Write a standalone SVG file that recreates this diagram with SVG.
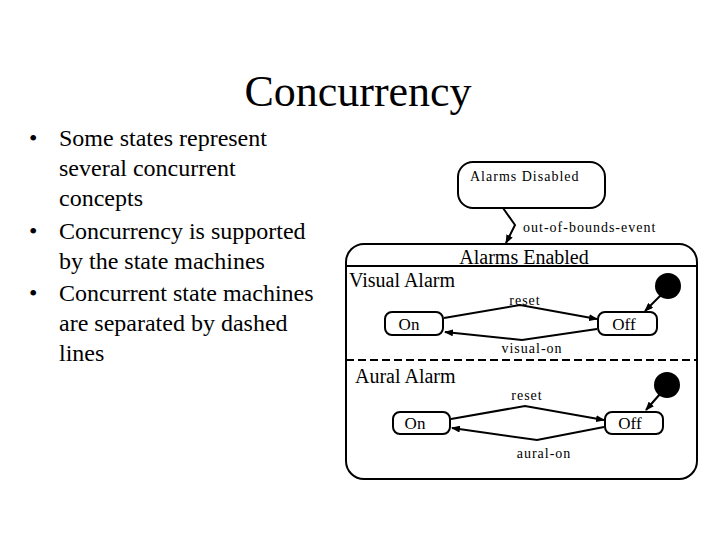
<svg xmlns="http://www.w3.org/2000/svg" width="720" height="540" viewBox="0 0 720 540" font-family="'Liberation Serif', 'Times New Roman', Times, serif">
<defs>
<style>
text{font-family:'Liberation Serif','Times New Roman',Times,serif;fill:#000}
.title{font-size:44px}
.bul{font-size:24px}
.lbl{font-size:14px;letter-spacing:1px}
.sm{font-size:14px;letter-spacing:1px}
.st{font-size:17px}
.reg{font-size:20px}
.box{fill:#fff;stroke:#000;stroke-width:2}
.edge{fill:none;stroke:#000;stroke-width:2}
</style>
<marker id="ah" markerWidth="9" markerHeight="7" refX="8" refY="3.5" orient="auto" markerUnits="userSpaceOnUse">
<path d="M0,0 L9,3.5 L0,7 Z" fill="#000"/>
</marker>
</defs>
<rect width="720" height="540" fill="#fff"/>
<text class="title" x="358" y="106" text-anchor="middle">Concurrency</text>
<g id="bullets">
<text class="bul" x="29" y="146">•</text>
<text class="bul" x="59" y="146">Some states represent</text>
<text class="bul" x="59" y="176">several concurrent</text>
<text class="bul" x="59" y="206">concepts</text>
<text class="bul" x="29" y="239">•</text>
<text class="bul" x="59" y="239">Concurrency is supported</text>
<text class="bul" x="59" y="269">by the state machines</text>
<text class="bul" x="29" y="301">•</text>
<text class="bul" x="59" y="301">Concurrent state machines</text>
<text class="bul" x="59" y="331">are separated by dashed</text>
<text class="bul" x="59" y="361">lines</text>
</g>
<g id="alarms-disabled">
<rect class="box" x="458" y="162" width="147" height="46" rx="15"/>
<text class="lbl" x="470" y="181">Alarms Disabled</text>
</g>
<g id="alarms-enabled">
<rect class="box" x="346" y="244" width="351" height="235" rx="18"/>
<text class="reg" x="524" y="264" text-anchor="middle">Alarms Enabled</text>
<line x1="346" y1="266" x2="697" y2="266" stroke="#000" stroke-width="2"/>
<line x1="346" y1="360" x2="697" y2="360" stroke="#000" stroke-width="2" stroke-dasharray="8,4"/>
<text class="reg" x="349" y="287">Visual Alarm</text>
<text class="reg" x="355" y="383">Aural Alarm</text>
</g>
<g id="visual-init"><circle cx="668" cy="286" r="13" fill="#000"/></g>
<g id="visual-on-state">
<rect class="box" x="385" y="312" width="58" height="23" rx="7"/>
<text class="st" x="409" y="330" text-anchor="middle">On</text>
</g>
<g id="visual-off-state">
<rect class="box" x="598" y="312" width="59" height="23" rx="7"/>
<text class="st" x="624" y="330" text-anchor="middle">Off</text>
</g>
<g id="aural-init"><circle cx="667" cy="385" r="13" fill="#000"/></g>
<g id="aural-on-state">
<rect class="box" x="393" y="412" width="57" height="22" rx="7"/>
<text class="st" x="415" y="429" text-anchor="middle">On</text>
</g>
<g id="aural-off-state">
<rect class="box" x="605" y="412" width="58" height="22" rx="7"/>
<text class="st" x="630" y="429" text-anchor="middle">Off</text>
</g>
<g id="connectors">
<polyline class="edge" points="503,208 515,225 506,243" marker-end="url(#ah)"/>
<text class="sm" x="523" y="232">out-of-bounds-event</text>
<polyline class="edge" points="444,318 520,305 597,319" marker-end="url(#ah)"/>
<text class="sm" x="525" y="305" text-anchor="middle">reset</text>
<polyline class="edge" points="597,329 522,340 445,332" marker-end="url(#ah)"/>
<text class="sm" x="532" y="353" text-anchor="middle">visual-on</text>
<line class="edge" x1="661" y1="295" x2="645" y2="311" marker-end="url(#ah)"/>
<polyline class="edge" points="451,419 525,406 604,420" marker-end="url(#ah)"/>
<text class="sm" x="527" y="400" text-anchor="middle">reset</text>
<polyline class="edge" points="604,427 537,440 452,428" marker-end="url(#ah)"/>
<text class="sm" x="544" y="458" text-anchor="middle">aural-on</text>
<line class="edge" x1="660" y1="394" x2="646" y2="410" marker-end="url(#ah)"/>
</g>
</svg>
